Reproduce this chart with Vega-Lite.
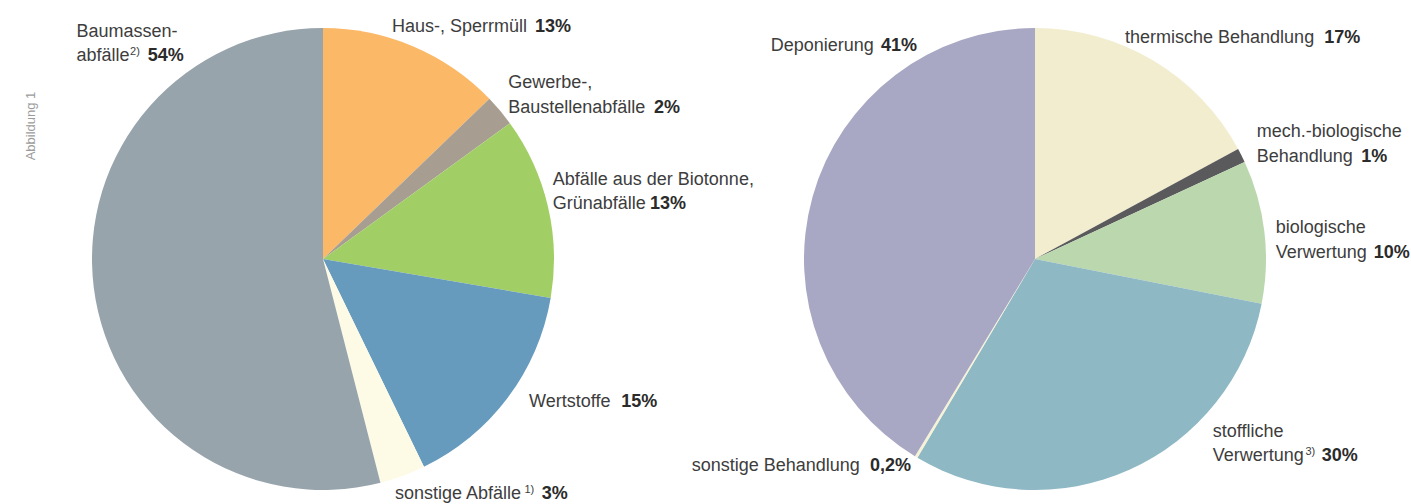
{
  "$schema": "https://vega.github.io/schema/vega-lite/v6.json",
  "autosize": {"type": "none"},
  "padding": {"left": 46, "top": 14, "right": 0, "bottom": 0},
  "width": 1365,
  "height": 490,
  "background": "white",
  "config": {"view": {"stroke": null}, "text": {"font": "Liberation Sans", "fontSize": 18, "color": "#3d3d3d", "align": "left", "baseline": "alphabetic", "radius": 231, "lineHeight": 24.5, "lineBreak": "\n"}},
  "title": {"text": "Abbildung 1", "orient": "left", "anchor": "middle", "dx": 133, "offset": 8, "font": "Liberation Sans", "fontSize": 13, "fontWeight": "normal", "color": "#9b9b9b"},
  "data": {"values": [
    {"pie": "A", "key": "haus", "name": "Haus-, Sperrmüll", "value": 12.8, "pct": "13%", "note": ""},
    {"pie": "A", "key": "gew", "name": "Gewerbe-,\nBaustellenabfälle", "value": 2.2, "pct": "2%", "note": ""},
    {"pie": "A", "key": "bio", "name": "Abfälle aus der Biotonne,\nGrünabfälle", "value": 12.7, "pct": "13%", "note": ""},
    {"pie": "A", "key": "wert", "name": "Wertstoffe", "value": 15.1, "pct": "15%", "note": ""},
    {"pie": "A", "key": "sonst", "name": "sonstige Abfälle", "value": 3.2, "pct": "3%", "note": "1)"},
    {"pie": "A", "key": "baum", "name": "Baumassen-\nabfälle", "value": 54.0, "pct": "54%", "note": "2)"},
    {"pie": "B", "key": "therm", "name": "thermische Behandlung", "value": 17.1, "pct": "17%", "note": ""},
    {"pie": "B", "key": "mech", "name": "mech.-biologische\nBehandlung", "value": 1.0, "pct": "1%", "note": ""},
    {"pie": "B", "key": "bioB", "name": "biologische\nVerwertung", "value": 10.0, "pct": "10%", "note": ""},
    {"pie": "B", "key": "stoff", "name": "stoffliche\nVerwertung", "value": 30.4, "pct": "30%", "note": "3)"},
    {"pie": "B", "key": "sonstB", "name": "sonstige Behandlung", "value": 0.2, "pct": "0,2%", "note": ""},
    {"pie": "B", "key": "depo", "name": "Deponierung", "value": 41.3, "pct": "41%", "note": ""}
  ]},
  "transform": [
    {"stack": "value", "groupby": ["pie"], "as": ["s0", "s1"]},
    {"calculate": "(datum.s0 + datum.s1) / 2", "as": "mid"}
  ],
  "encoding": {
    "x": {"field": "pie", "type": "nominal", "axis": null, "scale": {"type": "point", "domain": ["A", "B"], "padding": 0.458567, "align": 0.424196}}
  },
  "layer": [
    {
      "mark": {"type": "arc", "outerRadius": 231},
      "encoding": {
        "theta": {"field": "s0", "type": "quantitative", "scale": {"domain": [0, 100]}},
        "theta2": {"field": "s1"},
        "color": {"field": "key", "type": "nominal", "legend": null,
          "scale": {"domain": ["haus", "gew", "bio", "wert", "sonst", "baum", "therm", "mech", "bioB", "stoff", "sonstB", "depo"],
                    "range": ["#fbb866", "#a89d91", "#a2cf65", "#679bbd", "#fdfbe5", "#98a4ac", "#f2edcf", "#5a595b", "#bad7ae", "#8fb8c5", "#f6f2d6", "#a9a8c4"]}}
      }
    },
    {"transform": [{"filter": "datum.key === 'haus'"}], "mark": {"type": "text", "dx": -21.4, "dy": -14.9}, "encoding": {"theta": {"field": "mid", "type": "quantitative", "stack": null}, "text": {"field": "name"}}},
    {"transform": [{"filter": "datum.key === 'haus'"}], "mark": {"type": "text", "dx": 121.6, "dy": -14.9, "fontWeight": "bold", "color": "#2b2b2b"}, "encoding": {"theta": {"field": "mid", "type": "quantitative", "stack": null}, "text": {"field": "pct"}}},
    {"transform": [{"filter": "datum.key === 'gew'"}], "mark": {"type": "text", "dx": 8.2, "dy": -22.4}, "encoding": {"theta": {"field": "mid", "type": "quantitative", "stack": null}, "text": {"field": "name"}}},
    {"transform": [{"filter": "datum.key === 'gew'"}], "mark": {"type": "text", "dx": 153.9, "dy": 2.1, "fontWeight": "bold", "color": "#2b2b2b"}, "encoding": {"theta": {"field": "mid", "type": "quantitative", "stack": null}, "text": {"field": "pct"}}},
    {"transform": [{"filter": "datum.key === 'bio'"}], "mark": {"type": "text", "dx": 4.8, "dy": -21.5}, "encoding": {"theta": {"field": "mid", "type": "quantitative", "stack": null}, "text": {"field": "name"}}},
    {"transform": [{"filter": "datum.key === 'bio'"}], "mark": {"type": "text", "dx": 102.1, "dy": 3.0, "fontWeight": "bold", "color": "#2b2b2b"}, "encoding": {"theta": {"field": "mid", "type": "quantitative", "stack": null}, "text": {"field": "pct"}}},
    {"transform": [{"filter": "datum.key === 'wert'"}], "mark": {"type": "text", "dx": 21.3, "dy": 9.3}, "encoding": {"theta": {"field": "mid", "type": "quantitative", "stack": null}, "text": {"field": "name"}}},
    {"transform": [{"filter": "datum.key === 'wert'"}], "mark": {"type": "text", "dx": 113.6, "dy": 9.3, "fontWeight": "bold", "color": "#2b2b2b"}, "encoding": {"theta": {"field": "mid", "type": "quantitative", "stack": null}, "text": {"field": "pct"}}},
    {"transform": [{"filter": "datum.key === 'sonst'"}], "mark": {"type": "text", "dx": -7.6, "dy": 23.4}, "encoding": {"theta": {"field": "mid", "type": "quantitative", "stack": null}, "text": {"field": "name"}}},
    {"transform": [{"filter": "datum.key === 'sonst'"}], "mark": {"type": "text", "dx": 121.8, "dy": 17.4, "fontSize": 11}, "encoding": {"theta": {"field": "mid", "type": "quantitative", "stack": null}, "text": {"field": "note"}}},
    {"transform": [{"filter": "datum.key === 'sonst'"}], "mark": {"type": "text", "dx": 139.2, "dy": 23.4, "fontWeight": "bold", "color": "#2b2b2b"}, "encoding": {"theta": {"field": "mid", "type": "quantitative", "stack": null}, "text": {"field": "pct"}}},
    {"transform": [{"filter": "datum.key === 'baum'"}], "mark": {"type": "text", "dx": -17.3, "dy": -251.4}, "encoding": {"theta": {"field": "mid", "type": "quantitative", "stack": null}, "text": {"field": "name"}}},
    {"transform": [{"filter": "datum.key === 'baum'"}], "mark": {"type": "text", "dx": 36.2, "dy": -232.9, "fontSize": 11}, "encoding": {"theta": {"field": "mid", "type": "quantitative", "stack": null}, "text": {"field": "note"}}},
    {"transform": [{"filter": "datum.key === 'baum'"}], "mark": {"type": "text", "dx": 53.9, "dy": -226.9, "fontWeight": "bold", "color": "#2b2b2b"}, "encoding": {"theta": {"field": "mid", "type": "quantitative", "stack": null}, "text": {"field": "pct"}}},
    {"transform": [{"filter": "datum.key === 'therm'"}], "mark": {"type": "text", "dx": -28.2, "dy": -17.2}, "encoding": {"theta": {"field": "mid", "type": "quantitative", "stack": null}, "text": {"field": "name"}}},
    {"transform": [{"filter": "datum.key === 'therm'"}], "mark": {"type": "text", "dx": 171.1, "dy": -17.2, "fontWeight": "bold", "color": "#2b2b2b"}, "encoding": {"theta": {"field": "mid", "type": "quantitative", "stack": null}, "text": {"field": "pct"}}},
    {"transform": [{"filter": "datum.key === 'mech'"}], "mark": {"type": "text", "dx": 15.2, "dy": -18.1}, "encoding": {"theta": {"field": "mid", "type": "quantitative", "stack": null}, "text": {"field": "name"}}},
    {"transform": [{"filter": "datum.key === 'mech'"}], "mark": {"type": "text", "dx": 119.8, "dy": 6.4, "fontWeight": "bold", "color": "#2b2b2b"}, "encoding": {"theta": {"field": "mid", "type": "quantitative", "stack": null}, "text": {"field": "pct"}}},
    {"transform": [{"filter": "datum.key === 'bioB'"}], "mark": {"type": "text", "dx": 11.3, "dy": 1.8}, "encoding": {"theta": {"field": "mid", "type": "quantitative", "stack": null}, "text": {"field": "name"}}},
    {"transform": [{"filter": "datum.key === 'bioB'"}], "mark": {"type": "text", "dx": 109.3, "dy": 26.3, "fontWeight": "bold", "color": "#2b2b2b"}, "encoding": {"theta": {"field": "mid", "type": "quantitative", "stack": null}, "text": {"field": "pct"}}},
    {"transform": [{"filter": "datum.key === 'stoff'"}], "mark": {"type": "text", "dx": 83.3, "dy": -33.1}, "encoding": {"theta": {"field": "mid", "type": "quantitative", "stack": null}, "text": {"field": "name"}}},
    {"transform": [{"filter": "datum.key === 'stoff'"}], "mark": {"type": "text", "dx": 176.1, "dy": -14.6, "fontSize": 11}, "encoding": {"theta": {"field": "mid", "type": "quantitative", "stack": null}, "text": {"field": "note"}}},
    {"transform": [{"filter": "datum.key === 'stoff'"}], "mark": {"type": "text", "dx": 192.4, "dy": -8.6, "fontWeight": "bold", "color": "#2b2b2b"}, "encoding": {"theta": {"field": "mid", "type": "quantitative", "stack": null}, "text": {"field": "pct"}}},
    {"transform": [{"filter": "datum.key === 'sonstB'"}], "mark": {"type": "text", "dx": -224.5, "dy": 13.9}, "encoding": {"theta": {"field": "mid", "type": "quantitative", "stack": null}, "text": {"field": "name"}}},
    {"transform": [{"filter": "datum.key === 'sonstB'"}], "mark": {"type": "text", "dx": -46.2, "dy": 13.9, "fontWeight": "bold", "color": "#2b2b2b"}, "encoding": {"theta": {"field": "mid", "type": "quantitative", "stack": null}, "text": {"field": "pct"}}},
    {"transform": [{"filter": "datum.key === 'depo'"}], "mark": {"type": "text", "dx": -41.9, "dy": -146}, "encoding": {"theta": {"field": "mid", "type": "quantitative", "stack": null}, "text": {"field": "name"}}},
    {"transform": [{"filter": "datum.key === 'depo'"}], "mark": {"type": "text", "dx": 68.4, "dy": -146, "fontWeight": "bold", "color": "#2b2b2b"}, "encoding": {"theta": {"field": "mid", "type": "quantitative", "stack": null}, "text": {"field": "pct"}}}
  ]
}
